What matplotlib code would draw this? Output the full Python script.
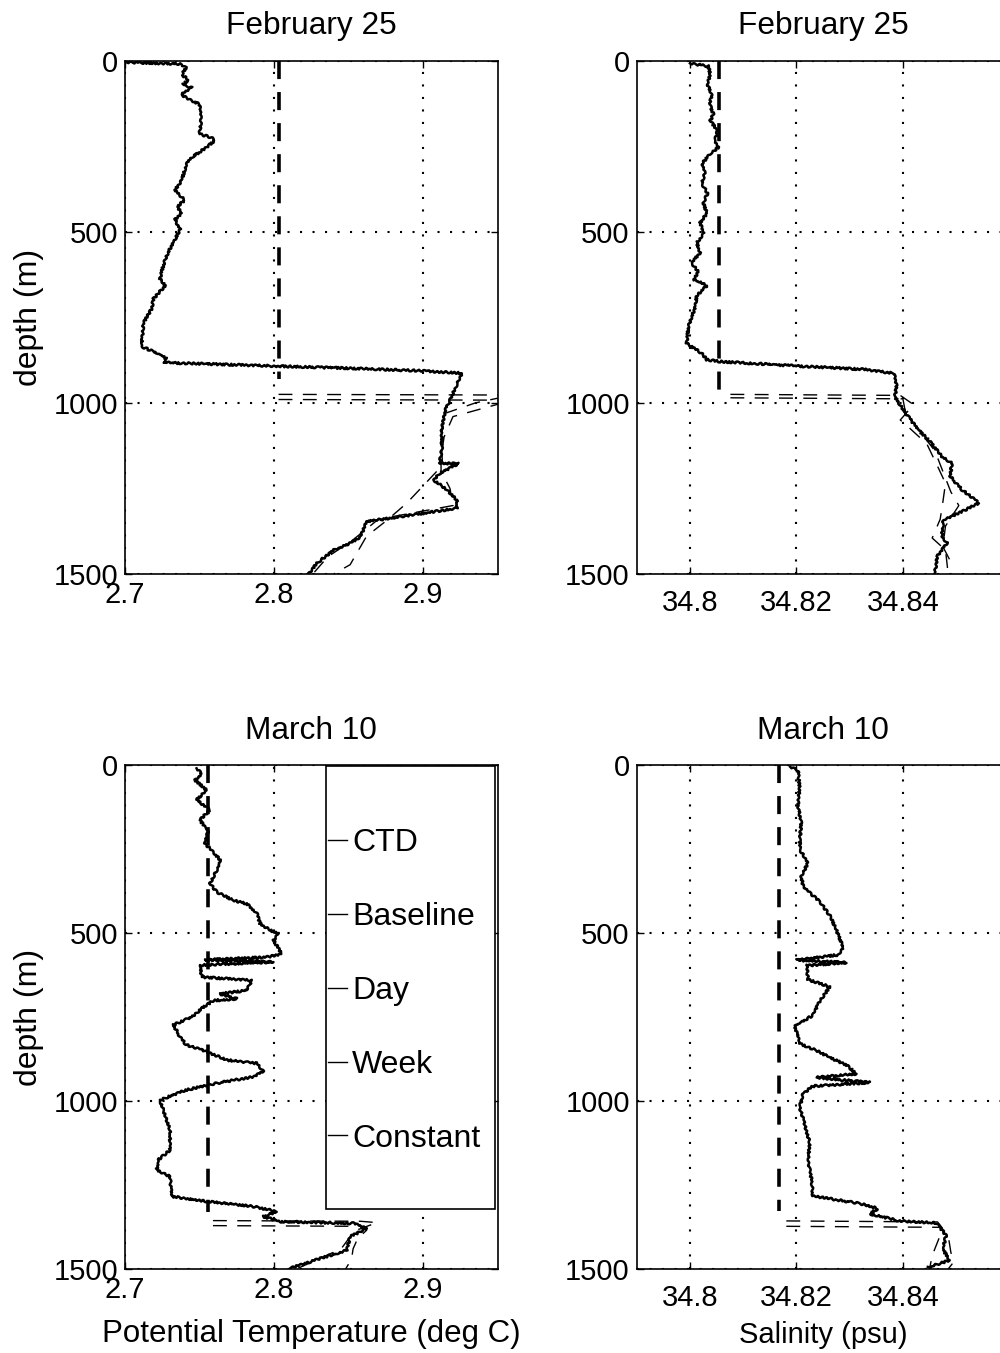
import matplotlib
matplotlib.use("Agg")
import matplotlib.pyplot as plt
from matplotlib.lines import Line2D
from matplotlib.patches import Rectangle

plt.rcParams["font.family"] = ["Liberation Sans", "DejaVu Sans"]
plt.rcParams["font.size"] = 21

# ---------------------- profiles ------------------------
depth_ticks = [0, 500, 1000, 1500]
temp_ticks = [2.7, 2.8, 2.9]
temp_ticklabels = ["2.7", "2.8", "2.9"]
salt_ticks = [34.8, 34.82, 34.84]
salt_ticklabels = ["34.8", "34.82", "34.84"]
legend_labels = ["CTD", "Baseline", "Day", "Week", "Constant"]

# February 25, potential temperature
feb_temp_depth = [4, 9, 12, 21, 40, 55, 69, 79, 98, 108, 127, 175, 214, 224, 233,
                  248, 267, 281, 301, 320, 349, 378, 407, 426, 445, 464, 493, 522,
                  551, 580, 609, 638, 657, 696, 724, 767, 835, 850, 869, 882, 892,
                  899, 906, 913, 972, 1020, 1069, 1137, 1176, 1178, 1206, 1225,
                  1254, 1284, 1308, 1347, 1391, 1410, 1430, 1469, 1500]
feb_temp_ctd = [2.701, 2.737, 2.738, 2.741, 2.738, 2.7425, 2.739, 2.745, 2.738,
                2.741, 2.750, 2.751, 2.750, 2.758, 2.760, 2.756, 2.750, 2.745,
                2.741, 2.740, 2.738, 2.7335, 2.740, 2.735, 2.738, 2.7335, 2.737,
                2.7335, 2.730, 2.727, 2.725, 2.7235, 2.727, 2.719, 2.718, 2.7123,
                2.7112, 2.719, 2.728, 2.7257, 2.7995, 2.853, 2.898, 2.926, 2.920,
                2.915, 2.9125, 2.9125, 2.911, 2.9237, 2.911, 2.907, 2.916, 2.9226,
                2.9226, 2.862, 2.858, 2.851, 2.840, 2.8287, 2.823]
feb_temp_base_depth = [0, 930]
feb_temp_base = [2.803, 2.803]
feb_temp_day_depth = [975, 977, 1000, 1030, 1100, 1180, 1196, 1293, 1342, 1390,
                      1473, 1500]
feb_temp_day = [2.803, 2.96, 2.935, 2.915, 2.912, 2.913, 2.910, 2.889,
                2.876, 2.862, 2.851, 2.840]
feb_temp_week_depth = [990, 992, 1010, 1040, 1100, 1160, 1200, 1250, 1300,
                       1340, 1400, 1450, 1500]
feb_temp_week = [2.803, 2.96, 2.945, 2.92, 2.914, 2.912, 2.912, 2.918,
                 2.92, 2.87, 2.853, 2.836, 2.826]

# February 25, salinity
feb_salt_depth = [7, 16, 40, 69, 98, 127, 156, 175, 204, 233, 252, 272, 301, 329,
                  358, 387, 416, 445, 474, 503, 532, 561, 590, 618, 638, 657, 686,
                  724, 777, 826, 855, 874, 879, 892, 902, 914, 952, 982, 1011,
                  1040, 1079, 1118, 1157, 1176, 1215, 1254, 1293, 1322, 1342,
                  1391, 1410, 1449, 1488, 1500]
feb_salt_ctd = [34.800, 34.8035, 34.8038, 34.8033, 34.8041, 34.8037, 34.8044,
                34.8038, 34.8052, 34.8047, 34.8054, 34.8038, 34.8022, 34.8028,
                34.8022, 34.8033, 34.8025, 34.8032, 34.8019, 34.8026, 34.8013,
                34.8019, 34.8003, 34.8016, 34.8006, 34.8032, 34.8013, 34.8009,
                34.7997, 34.7994, 34.8022, 34.8032, 34.8057, 34.8202, 34.8328,
                34.8385, 34.8388, 34.8385, 34.8397, 34.841, 34.8429, 34.8454,
                34.8473, 34.8492, 34.8489, 34.8511, 34.8543, 34.8505, 34.8476,
                34.8473, 34.8483, 34.8464, 34.8461, 34.846]
feb_salt_base_depth = [0, 967]
feb_salt_base = [34.8054, 34.8054]
feb_salt_day_depth = [975, 978, 1005, 1050, 1070, 1120, 1185, 1235, 1290,
                      1340, 1395, 1430, 1500]
feb_salt_day = [34.8076, 34.8395, 34.842, 34.8395, 34.841, 34.8445,
                34.8465, 34.848, 34.8475, 34.847, 34.8455, 34.848, 34.8485]
feb_salt_week_depth = [985, 988, 1030, 1080, 1140, 1200, 1260, 1300, 1360,
                       1420, 1480]
feb_salt_week = [34.8076, 34.840, 34.8405, 34.843, 34.846, 34.8475,
                 34.849, 34.8505, 34.848, 34.8475, 34.8495]

# March 10, potential temperature
mar_temp_depth = [10, 25, 45, 75, 104, 134, 164, 194, 234, 253, 283, 313, 353, 378,
                  403, 413, 442, 472, 492, 502, 522, 562, 572, 580, 586, 596, 631,
                  641, 671, 681, 696, 701, 721, 750, 774, 809, 833, 853, 878, 888,
                  913, 928, 947, 967, 997, 1027, 1086, 1146, 1175, 1205, 1225,
                  1284, 1299, 1314, 1329, 1344, 1359, 1364, 1379, 1404, 1444,
                  1469, 1498]
mar_temp_ctd = [2.748, 2.7515, 2.747, 2.7548, 2.748, 2.757, 2.750, 2.7559, 2.7537,
                2.758, 2.7638, 2.7615, 2.757, 2.7615, 2.7727, 2.7817, 2.7884,
                2.7906, 2.7973, 2.803, 2.7996, 2.8051, 2.7951, 2.7537, 2.7996,
                2.7503, 2.7515, 2.785, 2.7817, 2.7638, 2.775, 2.7593, 2.7526,
                2.7447, 2.7324, 2.7369, 2.741, 2.7548, 2.7682, 2.7884, 2.7928,
                2.786, 2.7615, 2.7414, 2.7235, 2.7257, 2.7302, 2.7302, 2.7224,
                2.7213, 2.7302, 2.7313, 2.7548, 2.786, 2.8018, 2.7928, 2.804,
                2.8532, 2.8622, 2.851, 2.8488, 2.8309, 2.8107]
mar_temp_base_depth = [0, 1329]
mar_temp_base = [2.7559, 2.7559]
mar_temp_day_depth = [1356, 1358, 1362, 1385, 1410, 1440, 1470, 1500]
mar_temp_day = [2.759, 2.858, 2.869, 2.855, 2.850, 2.845, 2.830, 2.815]
mar_temp_week_depth = [1371, 1373, 1385, 1410, 1440, 1470, 1500]
mar_temp_week = [2.759, 2.858, 2.862, 2.856, 2.853, 2.852, 2.848]

# March 10, salinity
mar_salt_depth = [5, 16, 69, 121, 174, 227, 259, 290, 333, 364, 407, 449, 491, 544,
                  565, 581, 588, 597, 639, 660, 702, 745, 776, 829, 850, 871, 893,
                  919, 930, 945, 956, 977, 1019, 1072, 1125, 1178, 1231, 1283,
                  1305, 1320, 1336, 1357, 1363, 1400, 1442, 1474, 1495]
mar_salt_ctd = [34.8188, 34.8203, 34.8206, 34.8203, 34.8209, 34.8206, 34.8209,
                34.8222, 34.8209, 34.8213, 34.8244, 34.8263, 34.8275, 34.8288,
                34.8278, 34.8200, 34.8294, 34.8219, 34.8222, 34.8263, 34.8244,
                34.8231, 34.8197, 34.8206, 34.8238, 34.8263, 34.8294, 34.8313,
                34.8238, 34.8338, 34.8231, 34.8213, 34.8206, 34.8216, 34.8225,
                34.8222, 34.8228, 34.8231, 34.8319, 34.8353, 34.8338, 34.8394,
                34.8463, 34.8481, 34.8475, 34.8488, 34.8447]
mar_salt_base_depth = [0, 1326]
mar_salt_base = [34.8167, 34.8167]
mar_salt_day_depth = [1357, 1360, 1380, 1420, 1460, 1500]
mar_salt_day = [34.8181, 34.8465, 34.8475, 34.8465, 34.8455, 34.845]
mar_salt_week_depth = [1373, 1376, 1400, 1450, 1480, 1500]
mar_salt_week = [34.8181, 34.847, 34.8485, 34.849, 34.8495, 34.8485]


def draw_profile(ax, ctd, ctd_z, base, base_z, day, day_z, week, week_z):
    ax.plot(week, week_z, color="k", lw=1.0, linestyle=(0, (10, 7.5)), zorder=3)
    ax.plot(day, day_z, color="k", lw=1.0, linestyle=(0, (10, 7.5)), zorder=3)
    ax.plot(base, base_z, color="k", lw=2.6, linestyle=(0, (5.0, 3.6)), zorder=3)
    trace, = ax.plot(ctd, ctd_z, color="k", lw=1.8, zorder=4)
    # the recorded trace is jittery at the few-metre scale
    trace.set_sketch_params(scale=1.0, length=5, randomness=3)


def setup_axes(ax, xlim, xticks, xticklabels, title, xpad):
    ax.set_xlim(*xlim)
    ax.set_ylim(1500, 0)
    ax.set_xticks(xticks)
    ax.set_xticklabels(xticklabels)
    ax.set_yticks(depth_ticks)
    ax.grid(True, color="k", linestyle=(0, (1, 5)), linewidth=1.5)
    ax.set_axisbelow(True)
    ax.tick_params(direction="in", length=5, width=1, top=True, right=True, pad=5)
    ax.tick_params(axis="x", pad=xpad)
    for s in ax.spines.values():
        s.set_linewidth(1.2)
    ax.set_title(title, pad=19, fontsize=22.8)
    ax.yaxis.set_label_coords(-0.217, 0.5)


fig = plt.figure(figsize=(10, 13.53), dpi=100)

ax1 = fig.add_axes([0.125, 0.5758, 0.3727, 0.3792])
ax2 = fig.add_axes([0.6367, 0.5758, 0.3727, 0.3792])
ax3 = fig.add_axes([0.125, 0.0621, 0.3727, 0.3725])
ax4 = fig.add_axes([0.6367, 0.0621, 0.3727, 0.3725])

draw_profile(ax1, feb_temp_ctd, feb_temp_depth, feb_temp_base, feb_temp_base_depth,
             feb_temp_day, feb_temp_day_depth, feb_temp_week, feb_temp_week_depth)
draw_profile(ax2, feb_salt_ctd, feb_salt_depth, feb_salt_base, feb_salt_base_depth,
             feb_salt_day, feb_salt_day_depth, feb_salt_week, feb_salt_week_depth)
draw_profile(ax3, mar_temp_ctd, mar_temp_depth, mar_temp_base, mar_temp_base_depth,
             mar_temp_day, mar_temp_day_depth, mar_temp_week, mar_temp_week_depth)
draw_profile(ax4, mar_salt_ctd, mar_salt_depth, mar_salt_base, mar_salt_base_depth,
             mar_salt_day, mar_salt_day_depth, mar_salt_week, mar_salt_week_depth)

setup_axes(ax1, (2.7, 2.95), temp_ticks, temp_ticklabels, "February 25", 5)
setup_axes(ax2, (34.79, 34.86), salt_ticks, salt_ticklabels, "February 25", 11)
setup_axes(ax3, (2.7, 2.95), temp_ticks, temp_ticklabels, "March 10", 5)
setup_axes(ax4, (34.79, 34.86), salt_ticks, salt_ticklabels, "March 10", 11)

ax1.set_ylabel("depth (m)", fontsize=23)
ax3.set_ylabel("depth (m)", fontsize=23)
ax3.set_xlabel("Potential Temperature (deg C)", labelpad=11, fontsize=22.5)
ax4.set_xlabel("Salinity (psu)", labelpad=6, fontsize=21)

# legend: frameless entries inside a tall box
ax3.add_patch(Rectangle((0.539, 0.119), 0.454, 0.879, transform=ax3.transAxes,
                        facecolor="white", edgecolor="k", lw=1.2, zorder=5))
handles = [Line2D([], [], color="k", lw=1.0) for _ in legend_labels]
leg = ax3.legend(handles, legend_labels, loc="upper left",
                 bbox_to_anchor=(0.545, 0.874), frameon=False, handlelength=0.6,
                 handletextpad=0.15, labelspacing=1.37, borderpad=0,
                 borderaxespad=0, fontsize=23)
leg.set_zorder(6)

fig.savefig("out.png", dpi=100)
